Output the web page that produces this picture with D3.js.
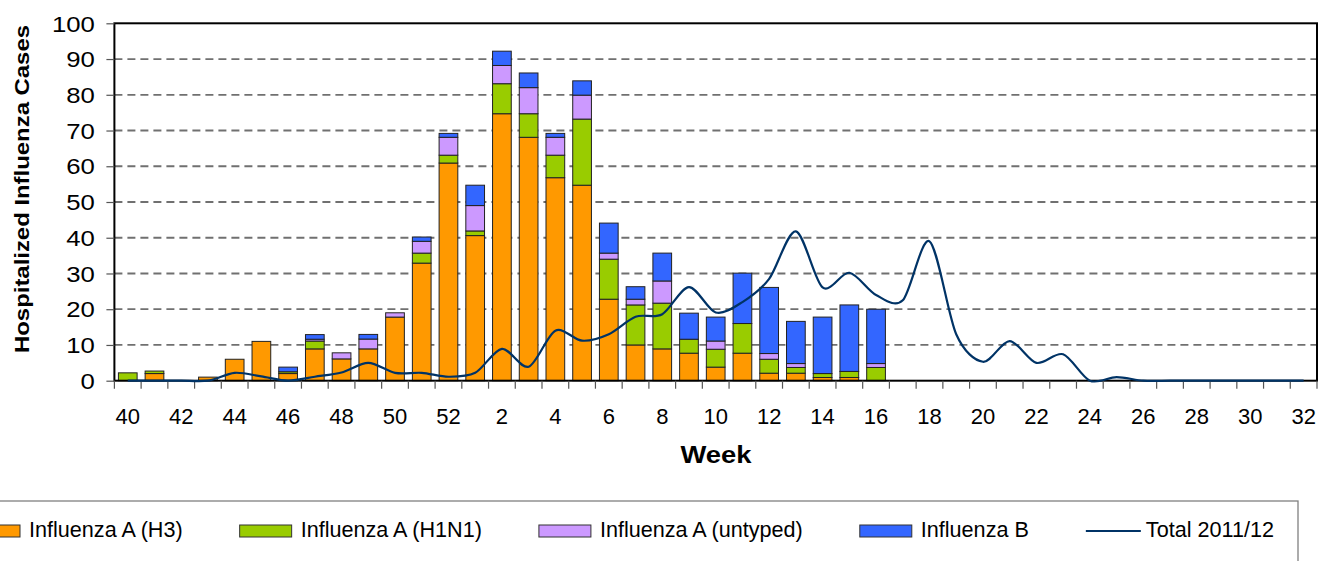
<!DOCTYPE html>
<html>
<head>
<meta charset="utf-8">
<script src="https://cdn.jsdelivr.net/npm/d3@7"></script>
<style>
  html, body { margin: 0; padding: 0; background: #fff; }
  svg { display: block; font-family: "Liberation Sans", Arial, sans-serif; }
</style>
</head>
<body>
<svg id="chart" width="1320" height="561"></svg>
<script>
// ---------------- DATA ----------------
const weeks = ["40","41","42","43","44","45","46","47","48","49","50","51","52",
  "1","2","3","4","5","6","7","8","9","10","11","12","13","14","15","16",
  "17","18","19","20","21","22","23","24","25","26","27","28","29","30","31","32"];

// bar weeks 40 .. 16 (29 weeks)
const h3 =      [0, 2, 0, 1, 6, 11, 2, 8.9, 6.1, 8.9, 17.8, 32.9, 60.9, 40.6, 74.7, 68.1, 56.8, 54.7, 22.8, 10, 8.9, 7.7, 3.8, 7.7, 2.1, 2.1, 0.9, 0.9, 0];
const h1n1 =    [2.2, 0.7, 0, 0, 0, 0, 0.5, 2.2, 0, 0, 0, 2.8, 2.2, 1.3, 8.4, 6.6, 6.3, 18.5, 11.2, 11.2, 12.8, 3.9, 5, 8.3, 3.9, 1.6, 1.1, 1.7, 3.7];
const untyped = [0, 0, 0, 0, 0, 0, 0, 0.5, 1.7, 2.75, 1.2, 3.3, 5, 7.1, 5.1, 7.3, 5, 6.7, 1.7, 1.6, 6.2, 0, 2.3, 0, 1.6, 1.1, 0, 0, 1.1];
const fluB =    [0, 0, 0, 0, 0, 0, 1.3, 1.3, 0, 1.3, 0, 1.2, 1.1, 5.7, 4, 4.1, 1.1, 4, 8.4, 3.5, 7.8, 7.3, 6.7, 14.1, 18.5, 11.8, 15.8, 18.6, 15.2];

// Total 2011/12 line, weeks 40 .. 32 (45 weeks)
const total1112 = [0, 0, 0, 0, 2.2, 1.2, 0, 1.1, 2.3, 5, 2.2, 2.2, 1.1,
  2.2, 8.9, 3.9, 14, 11.2, 13, 17.9, 18.6, 26.2, 19.1, 22, 28.5, 41.8, 26.1, 30.2, 24,
  22.5, 39, 13, 5.3, 11.1, 5, 7.4, 0, 1, 0, 0, 0, 0, 0, 0, 0];

const yTicks = [0,10,20,30,40,50,60,70,80,90,100];
const xTickLabels = weeks.filter((d, i) => i % 2 === 0);

const seriesNames = ["Influenza A (H3)", "Influenza A (H1N1)", "Influenza A (untyped)", "Influenza B"];
const seriesColors = ["#FF9900", "#99CC00", "#CC99FF", "#3366FF"];
const lineName = "Total 2011/12";
const lineColor = "#003366";

// ---------------- LAYOUT ----------------
const FONT = "'Liberation Sans', Arial, sans-serif";
const svg = d3.select("#chart");
const L = 114.4, R = 1317, T = 23.3, B = 380.7;

const x = d3.scaleBand().domain(weeks).range([L, R]).paddingInner(0.3).paddingOuter(0.15);
const y = d3.scaleLinear().domain([0, 100]).range([B, T]);

svg.append("rect").attr("width", 1320).attr("height", 561).attr("fill", "#fff");

// gridlines
svg.append("g").selectAll("line")
  .data(yTicks.filter(d => d > 0 && d < 100))
  .join("line")
  .attr("x1", L).attr("x2", R)
  .attr("y1", d => y(d)).attr("y2", d => y(d))
  .attr("stroke", "#707070").attr("stroke-width", 1.8)
  .attr("stroke-dasharray", "8,5");

// stacked bars
const keys = ["h3", "h1n1", "untyped", "b"];
const table = h3.map((v, i) => ({ week: weeks[i], h3: v, h1n1: h1n1[i], untyped: untyped[i], b: fluB[i] }));
const stacked = d3.stack().keys(keys)(table);

const barG = svg.append("g");
stacked.forEach((s, si) => {
  barG.append("g").selectAll("rect")
    .data(s.filter(d => d[1] - d[0] > 0))
    .join("rect")
    .attr("x", d => x(d.data.week))
    .attr("width", x.bandwidth())
    .attr("y", d => y(d[1]))
    .attr("height", d => y(d[0]) - y(d[1]))
    .attr("fill", seriesColors[si])
    .attr("stroke", "#222")
    .attr("stroke-width", 1);
});

// axes frame
svg.append("rect").attr("x", L).attr("y", T).attr("width", R - L).attr("height", B - T)
  .attr("fill", "none").attr("stroke", "#000").attr("stroke-width", 2);

// y axis
const yAxis = svg.append("g").attr("transform", `translate(${L},0)`)
  .call(d3.axisLeft(y).tickValues(yTicks).tickSize(8).tickPadding(11));
yAxis.select(".domain").remove();
yAxis.selectAll(".tick line").attr("stroke", "#555").attr("stroke-width", 1.2);
yAxis.selectAll(".tick text")
  .attr("font-size", 22).attr("fill", "#000")
  .attr("font-family", FONT)
  .attr("x", 0).attr("dy", "0.35em")
  .attr("transform", "translate(-19.5,0) scale(1.17,1)");

// x axis ticks at category boundaries
const step = x.step();
const boundaries = weeks.map(w => x(w) - step * x.paddingInner() / 2).concat([R]);
svg.append("g").selectAll("line").data(boundaries).join("line")
  .attr("x1", d => d).attr("x2", d => d)
  .attr("y1", B).attr("y2", B + 8)
  .attr("stroke", "#555").attr("stroke-width", 1.2);
svg.append("g").selectAll("text").data(xTickLabels).join("text")
  .attr("x", d => x(d) + x.bandwidth() / 2)
  .attr("y", 424)
  .attr("text-anchor", "middle")
  .attr("font-family", FONT)
  .attr("font-size", 22)
  .text(d => d);

// axis titles
svg.append("text")
  .attr("x", 716).attr("y", 463)
  .attr("text-anchor", "middle")
  .attr("font-family", FONT)
  .attr("font-size", 24).attr("font-weight", "bold")
  .attr("textLength", 71).attr("lengthAdjust", "spacingAndGlyphs")
  .text("Week");
svg.append("text")
  .attr("transform", "translate(29,189) rotate(-90)")
  .attr("text-anchor", "middle")
  .attr("font-family", FONT)
  .attr("font-size", 21).attr("font-weight", "bold")
  .attr("textLength", 328).attr("lengthAdjust", "spacingAndGlyphs")
  .text("Hospitalized Influenza Cases");

// total line
const line = d3.line()
  .x((d, i) => x(weeks[i]) + x.bandwidth() / 2)
  .y(d => y(d))
  .curve(d3.curveCardinal.tension(0.1));
svg.append("path").datum(total1112)
  .attr("d", line)
  .attr("fill", "none")
  .attr("stroke", lineColor)
  .attr("stroke-width", 2.2)
  .attr("stroke-linejoin", "round");

// legend
svg.append("rect").attr("x", -10).attr("y", 501).attr("width", 1308).attr("height", 100)
  .attr("fill", "none").attr("stroke", "#808080").attr("stroke-width", 1.3);

const leg = svg.append("g").attr("font-size", 21.6).attr("font-family", FONT);
let lx = -32;
const items = seriesNames.map((n, i) => ({ name: n, color: seriesColors[i], type: "rect" }))
  .concat([{ name: lineName, color: lineColor, type: "line" }]);
items.forEach(it => {
  const g = leg.append("g");
  if (it.type === "rect") {
    g.append("rect").attr("x", lx).attr("y", 525).attr("width", 52).attr("height", 12)
      .attr("fill", it.color).attr("stroke", "#333").attr("stroke-width", 1);
  } else {
    g.append("line").attr("x1", lx).attr("x2", lx + 55).attr("y1", 531).attr("y2", 531)
      .attr("stroke", it.color).attr("stroke-width", 2);
  }
  const tx = lx + (it.type === "rect" ? 61 : 60);
  const t = g.append("text").attr("x", tx).attr("y", 537).text(it.name);
  const w = t.node().getComputedTextLength();
  lx = tx + w + 57;
});
</script>
</body>
</html>
